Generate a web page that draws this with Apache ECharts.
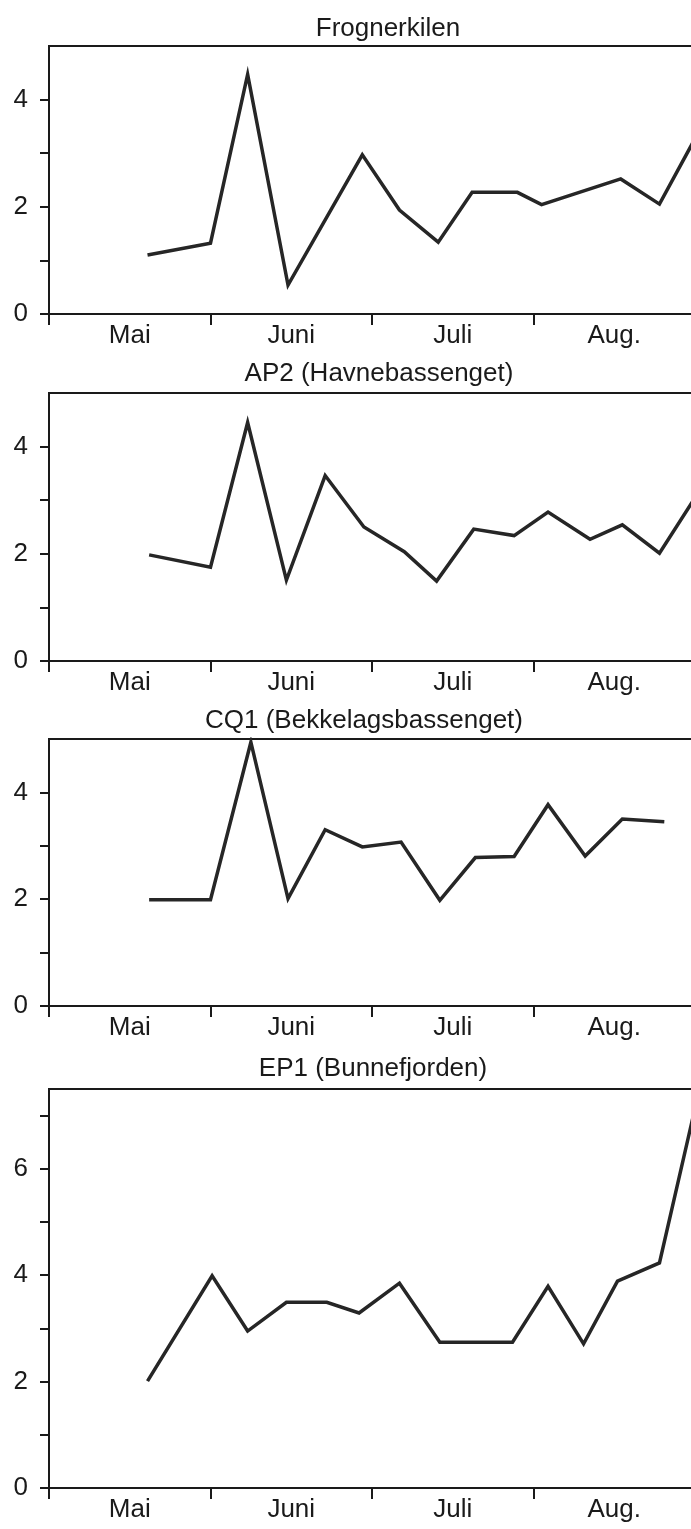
<!DOCTYPE html>
<html>
<head>
<meta charset="utf-8">
<script src="https://cdn.jsdelivr.net/npm/echarts@6/dist/echarts.min.js"></script>
<style>
  html, body { margin: 0; padding: 0; background: #fff; }
  #main { width: 691px; height: 1529px; }
</style>
</head>
<body>
<div id="main"></div>
<script>
// x values in months counted from 1 May (0 = 1 May, 1 = 1 June ...)
const months = ['Mai', 'Juni', 'Juli', 'Aug.']
const yTicks2 = [0, 2, 4, 6]

const frognerX = [0.61, 1.0, 1.23, 1.48, 1.94, 2.17, 2.41, 2.62, 2.90, 3.05, 3.54, 3.78, 4.05]
const frognerY = [1.10, 1.32, 4.47, 0.54, 2.97, 1.94, 1.34, 2.27, 2.27, 2.04, 2.52, 2.05, 3.55]

const ap2X = [0.62, 1.0, 1.23, 1.47, 1.71, 1.95, 2.20, 2.40, 2.63, 2.88, 3.09, 3.35, 3.55, 3.78, 4.05]
const ap2Y = [1.98, 1.75, 4.45, 1.51, 3.46, 2.50, 2.04, 1.49, 2.46, 2.34, 2.78, 2.27, 2.54, 2.01, 3.28]

const cq1X = [0.62, 1.0, 1.25, 1.48, 1.71, 1.94, 2.18, 2.42, 2.64, 2.88, 3.09, 3.32, 3.55, 3.81]
const cq1Y = [1.99, 1.99, 4.94, 2.01, 3.30, 2.98, 3.07, 1.98, 2.78, 2.80, 3.77, 2.81, 3.50, 3.45]

const ep1X = [0.61, 1.01, 1.23, 1.47, 1.72, 1.92, 2.17, 2.42, 2.87, 3.09, 3.31, 3.52, 3.78, 4.02]
const ep1Y = [2.01, 3.99, 2.95, 3.49, 3.49, 3.29, 3.85, 2.74, 2.74, 3.79, 2.71, 3.89, 4.23, 7.40]

const panels = [
  { title: 'Frognerkilen', titleX: 383, titleTop: 11, top: 46, height: 268, yMax: 5, xs: frognerX, ys: frognerY },
  { title: 'AP2 (Havnebassenget)', titleX: 374, titleTop: 356, top: 393, height: 268, yMax: 5, xs: ap2X, ys: ap2Y },
  { title: 'CQ1 (Bekkelagsbassenget)', titleX: 359, titleTop: 703, top: 739, height: 267, yMax: 5, xs: cq1X, ys: cq1Y },
  { title: 'EP1 (Bunnefjorden)', titleX: 368, titleTop: 1051, top: 1089, height: 399, yMax: 7.5, xs: ep1X, ys: ep1Y },
]

const FONT = '"Liberation Sans", Arial, sans-serif'
const INK = '#1a1a1a'

const chart = echarts.init(document.getElementById('main'))

const option = {
  backgroundColor: '#fff',
  animation: false,
  title: [],
  grid: [],
  xAxis: [],
  yAxis: [],
  series: [],
}

panels.forEach((p, i) => {
  option.title.push({
    text: p.title,
    left: p.titleX,
    top: p.titleTop,
    textAlign: 'center',
    textStyle: { fontFamily: FONT, fontSize: 26, fontWeight: 'normal', color: INK },
  })
  // plot runs a few pixels past the right edge of the page, as in the cropped scan
  option.grid.push({
    left: 49,
    width: 646,
    top: p.top,
    height: p.height,
    outerBoundsMode: 'none',
    containLabel: false,
    show: true,
    borderColor: INK,
    borderWidth: 2,
    backgroundColor: 'transparent',
  })
  // value axis carrying the data and month-boundary ticks
  option.xAxis.push({
    type: 'value',
    gridIndex: i,
    position: 'bottom',
    min: 0,
    max: 4,
    interval: 1,
    axisLine: { onZero: false, lineStyle: { color: INK, width: 2 } },
    axisTick: { inside: false, length: 11, lineStyle: { color: INK, width: 2 } },
    axisLabel: { show: false },
    splitLine: { show: false },
  })
  // category axis for centred month names
  option.xAxis.push({
    type: 'category',
    gridIndex: i,
    position: 'bottom',
    data: months,
    boundaryGap: true,
    axisLine: { show: false, onZero: false },
    axisTick: { show: false },
    axisLabel: { margin: 9, fontFamily: FONT, fontSize: 26, color: INK },
    splitLine: { show: false },
  })
  option.yAxis.push({
    type: 'value',
    gridIndex: i,
    min: 0,
    max: p.yMax,
    interval: 1,
    axisLine: { show: true, lineStyle: { color: INK, width: 2 } },
    axisTick: { show: true, inside: false, length: 9, lineStyle: { color: INK, width: 2 } },
    axisLabel: {
      margin: 21,
      fontFamily: FONT,
      fontSize: 26,
      color: INK,
      showMaxLabel: false,
      formatter: v => (yTicks2.includes(v) ? String(v) : ''),
    },
    splitLine: { show: false },
  })
  option.series.push({
    type: 'line',
    xAxisIndex: i * 2,
    yAxisIndex: i,
    data: p.xs.map((x, k) => [x, p.ys[k]]),
    showSymbol: false,
    clip: true,
    lineStyle: { color: '#262626', width: 3.5, join: 'miter' },
  })
})

chart.setOption(option)
</script>
</body>
</html>
